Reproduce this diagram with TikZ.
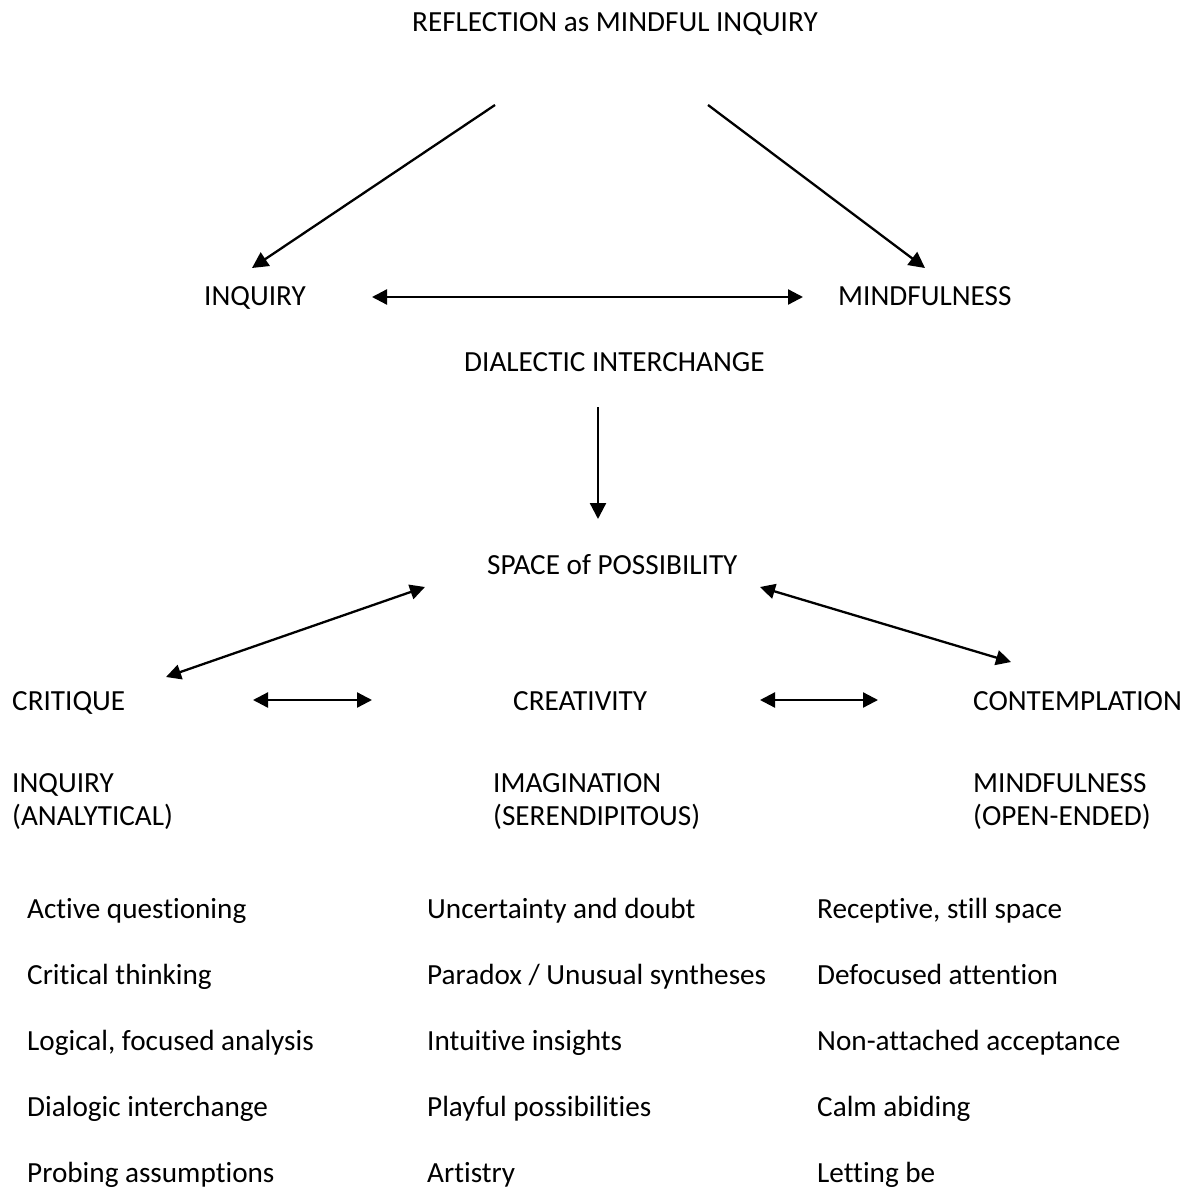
\documentclass[tikz,border=0pt]{standalone}
\usepackage{fontspec}
\setmainfont[Ligatures=NoCommon]{Carlito}
\usetikzlibrary{arrows.meta}
\begin{document}
\begin{tikzpicture}[x=1pt,y=-1pt,
  lbl/.style={anchor=base west,inner sep=0pt,font=\fontsize{29.2}{33}\selectfont},
  arr/.style={line width=2.3pt,-{Triangle[length=16pt,width=16pt]}},
  darr/.style={line width=2.3pt,{Triangle[length=15pt,width=15pt]}-{Triangle[length=15pt,width=15pt]}}]
\useasboundingbox (0,0) rectangle (1191,1193);
% texts
\node[lbl] (title) at (412,32) {REFLECTION as MINDFUL INQUIRY};
\node[lbl] (inq) at (204,305) {INQUIRY};
\node[lbl] (mind) at (838,305) {MINDFULNESS};
\node[lbl] (dial) at (464,371) {DIALECTIC INTERCHANGE};
\node[lbl] (space) at (487,574) {SPACE of POSSIBILITY};
\node[lbl] (crit) at (12,710) {CRITIQUE};
\node[lbl] (crea) at (513,710) {CREATIVITY};
\node[lbl] (cont) at (973,710) {CONTEMPLATION};
\node[lbl] (inq2) at (12,792) {INQUIRY};
\node[lbl] (ana) at (12,825) {(ANALYTICAL)};
\node[lbl] (ima) at (493,792) {IMAGINATION};
\node[lbl] (ser) at (493,825) {(SERENDIPITOUS)};
\node[lbl] (mind2) at (973,792) {MINDFULNESS};
\node[lbl] (open) at (973,825) {(OPEN-ENDED)};
% lists
\foreach \t [count=\i] in {Active questioning,Critical thinking,{Logical, focused analysis},Dialogic interchange,Probing assumptions}
  \node[lbl] (a\i) at (27,{918+66*(\i-1)}) {\t};
\foreach \t [count=\i] in {Uncertainty and doubt,Paradox / Unusual syntheses,Intuitive insights,Playful possibilities,Artistry}
  \node[lbl] (b\i) at (427,{918+66*(\i-1)}) {\t};
\foreach \t [count=\i] in {{Receptive, still space},Defocused attention,Non-attached acceptance,Calm abiding,Letting be}
  \node[lbl] (c\i) at (817,{918+66*(\i-1)}) {\t};
% arrow endpoints
\coordinate (t1) at (495,105); \coordinate (t1e) at (252,268);
\coordinate (t2) at (708,105); \coordinate (t2e) at (925,268);
\coordinate (h1) at (372,297); \coordinate (h2) at (803,297);
\coordinate (v1) at (598,407); \coordinate (v2) at (598,519);
\coordinate (l1) at (166,677); \coordinate (l2) at (425,587);
\coordinate (r1) at (760,587); \coordinate (r2) at (1011,662);
\coordinate (s1) at (253,700); \coordinate (s2) at (372,700);
\coordinate (s3) at (760,700); \coordinate (s4) at (878,700);
\draw[arr] (t1) -- (t1e);
\draw[arr] (t2) -- (t2e);
\draw[darr] (h1) -- (h2);
\draw[arr] (v1) -- (v2);
\draw[darr] (l1) -- (l2);
\draw[darr] (r1) -- (r2);
\draw[darr] (s1) -- (s2);
\draw[darr] (s3) -- (s4);
\end{tikzpicture}
\end{document}
